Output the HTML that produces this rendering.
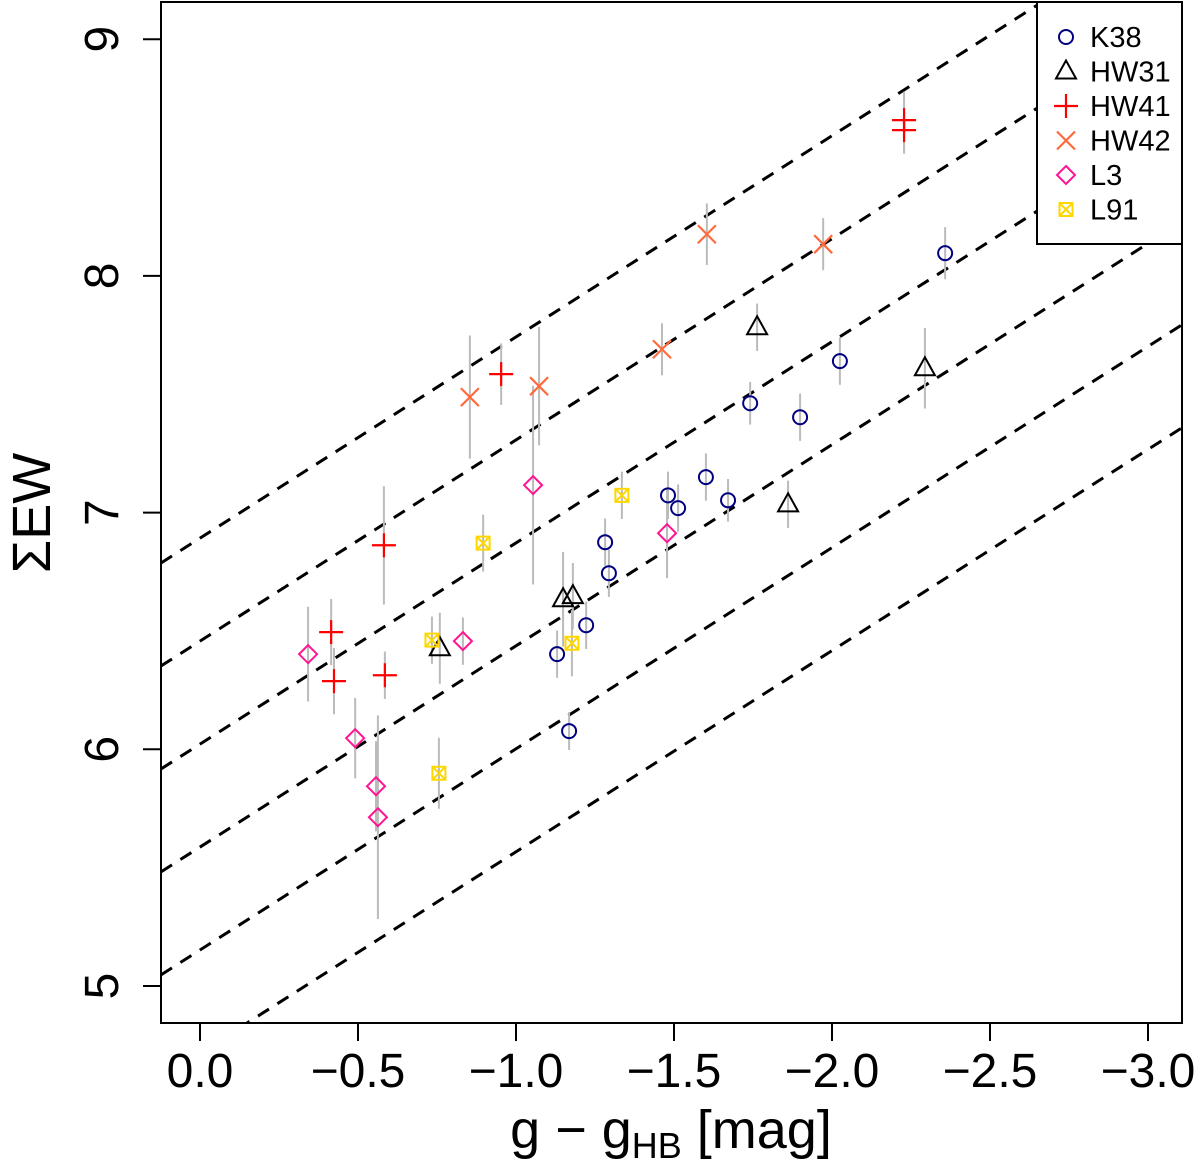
<!DOCTYPE html>
<html><head><meta charset="utf-8"><style>
html,body{margin:0;padding:0;background:#fff;}
svg{display:block;font-family:"Liberation Sans",Arial,sans-serif;}
</style></head><body>
<svg id="chart" width="1200" height="1168" viewBox="0 0 1200 1168" xmlns="http://www.w3.org/2000/svg"></svg>
<script>
const xTicks=[0,-0.5,-1,-1.5,-2,-2.5,-3];
const xTickLabels=["0.0","\u22120.5","\u22121.0","\u22121.5","\u22122.0","\u22122.5","\u22123.0"];
const yTicks=[5,6,7,8,9];
const yTickLabels=["5","6","7","8","9"];
const lineIntercepts=[6.892,6.457,6.022,5.587,5.152,4.717];
const lineSlope=-0.85;
const seriesNames=["K38","HW31","HW41","HW42","L3","L91"];
const k38G=[-2.358,-2.025,-1.899,-1.741,-1.601,-1.671,-1.481,-1.513,-1.282,-1.294,-1.222,-1.130,-1.168];
const k38EW=[8.096,7.640,7.403,7.462,7.150,7.052,7.073,7.019,6.875,6.744,6.524,6.402,6.077];
const k38Err=[0.11,0.1,0.1,0.09,0.1,0.09,0.1,0.1,0.1,0.1,0.1,0.1,0.08];
const hw31G=[-1.763,-2.294,-1.861,-1.149,-1.180,-0.759];
const hw31EW=[7.783,7.610,7.035,6.634,6.647,6.427];
const hw31Err=[0.1,0.17,0.1,0.2,0.14,0.15];
const hw41G=[-2.228,-2.228,-0.953,-0.582,-0.415,-0.424,-0.585];
const hw41EW=[8.658,8.616,7.585,6.862,6.495,6.288,6.313];
const hw41Err=[0.12,0.1,0.13,0.25,0.14,0.14,0.1];
const hw42G=[-1.604,-1.972,-1.462,-0.854,-1.073];
const hw42EW=[8.176,8.134,7.690,7.488,7.534];
const hw42Err=[0.13,0.11,0.11,0.26,0.25];
const l3G=[-1.054,-1.478,-0.832,-0.342,-0.491,-0.557,-0.563];
const l3EW=[7.116,6.913,6.457,6.402,6.047,5.844,5.713];
const l3Err=[0.42,0.19,0.1,0.2,0.17,0.19,0.43];
const l91G=[-1.335,-0.896,-0.734,-1.177,-0.756];
const l91EW=[7.073,6.871,6.461,6.448,5.899];
const l91Err=[0.1,0.12,0.1,0.14,0.15];

const NS="http://www.w3.org/2000/svg";
const svg=document.getElementById('chart');
const L=161,R=1182,T=2,B=1023;
function sx(g){return 200-g*316;}
function sy(v){return 986-(v-5)*236.7;}
function mk(tag,attrs,parent){const e=document.createElementNS(NS,tag);for(const k in attrs)e.setAttribute(k,attrs[k]);(parent||svg).appendChild(e);return e;}

const defs=mk('defs',{});
const cp=mk('clipPath',{id:'plotclip'},defs);
mk('rect',{x:L,y:T,width:R-L,height:B-T},cp);

const lg=mk('g',{'clip-path':'url(#plotclip)'});


const g0=(200-L)/316, g1=(200-R)/316;
lineIntercepts.forEach((c,i)=>{
  const l=mk('line',{x1:sx(g0),y1:sy(c+lineSlope*g0),x2:sx(g1),y2:sy(c+lineSlope*g1),stroke:'#000','stroke-width':3,'stroke-dasharray':'13 10'},lg);
  
  
});

function drawMarker(type,x,y,parent){
  if(type==='K38'){mk('circle',{cx:x,cy:y,r:7,fill:'none',stroke:'#000080','stroke-width':2},parent);}
  else if(type==='HW31'){mk('polygon',{points:`${x},${y-11} ${x-10},${y+7} ${x+10},${y+7}`,fill:'none',stroke:'#000','stroke-width':2},parent);}
  else if(type==='HW41'){mk('path',{d:`M${x-12},${y}H${x+12}M${x},${y-12}V${y+12}`,stroke:'#ff0000','stroke-width':2.2,fill:'none'},parent);}
  else if(type==='HW42'){mk('path',{d:`M${x-9},${y-9}L${x+9},${y+9}M${x-9},${y+9}L${x+9},${y-9}`,stroke:'#ff6a3d','stroke-width':2.2,fill:'none'},parent);}
  else if(type==='L3'){mk('polygon',{points:`${x},${y-9} ${x+9},${y} ${x},${y+9} ${x-9},${y}`,fill:'none',stroke:'#ff1493','stroke-width':2},parent);}
  else if(type==='L91'){mk('path',{d:`M${x-6.5},${y-6.5}h13v13h-13zM${x-6.5},${y-6.5}L${x+6.5},${y+6.5}M${x-6.5},${y+6.5}L${x+6.5},${y-6.5}`,fill:'none',stroke:'#ffd700','stroke-width':2},parent);}
}
const allSeries=[["K38",k38G,k38EW,k38Err],["HW31",hw31G,hw31EW,hw31Err],["HW41",hw41G,hw41EW,hw41Err],["HW42",hw42G,hw42EW,hw42Err],["L3",l3G,l3EW,l3Err],["L91",l91G,l91EW,l91Err]];
const eg=mk('g',{});


allSeries.forEach(s=>{s[1].forEach((g,i)=>{
  const e=mk('line',{x1:sx(g),x2:sx(g),y1:sy(s[2][i]-s[3][i]),y2:sy(s[2][i]+s[3][i]),stroke:'#bbbbbb','stroke-width':2},eg);
  
  
});});
allSeries.forEach(s=>{
  const sg=mk('g',{});
  
  
  s[1].forEach((g,i)=>{
    const pg=mk('g',{},sg);
    
    
    drawMarker(s[0],sx(g),sy(s[2][i]),pg);
  });
});

const fr=mk('rect',{x:L,y:T,width:R-L,height:B-T,fill:'none',stroke:'#000','stroke-width':2});



const xa=mk('g',{});


xTicks.forEach((t,i)=>{
  mk('line',{x1:sx(t),x2:sx(t),y1:B,y2:B+18,stroke:'#000','stroke-width':2},xa);
  const tx=mk('text',{x:sx(t),y:1087,'font-size':48,'text-anchor':'middle'},xa);
  tx.textContent=xTickLabels[i];
  
  
});
const ya=mk('g',{});


yTicks.forEach((t,i)=>{
  mk('line',{x1:L,x2:L-18,y1:sy(t),y2:sy(t),stroke:'#000','stroke-width':2},ya);
  const tx=mk('text',{x:118,y:sy(t),'font-size':48,'text-anchor':'middle',transform:`rotate(-90 118 ${sy(t)})`},ya);
  tx.textContent=yTickLabels[i];
  
  
});
const xt=mk('text',{x:671,y:1148,'font-size':54,'text-anchor':'middle'});
xt.innerHTML='g \u2212 g<tspan font-size="36" dy="10">HB</tspan><tspan dy="-10"> [mag]</tspan>';


const yt=mk('text',{x:50,y:513,'font-size':54,'text-anchor':'middle',transform:'rotate(-90 50 513)'});
yt.textContent='\u03A3EW';



const leg=mk('g',{});


mk('rect',{x:1037,y:2,width:145,height:242,fill:'#fff',stroke:'#000','stroke-width':2},leg);
seriesNames.forEach((n,i)=>{
  const y=37+i*34.5;
  const eg2=mk('g',{},leg);
  
  
  drawMarker(n,1066,y,eg2);
  const t=mk('text',{x:1090,y:y+10,'font-size':29},eg2);
  t.textContent=n;
});
</script>
</body></html>
